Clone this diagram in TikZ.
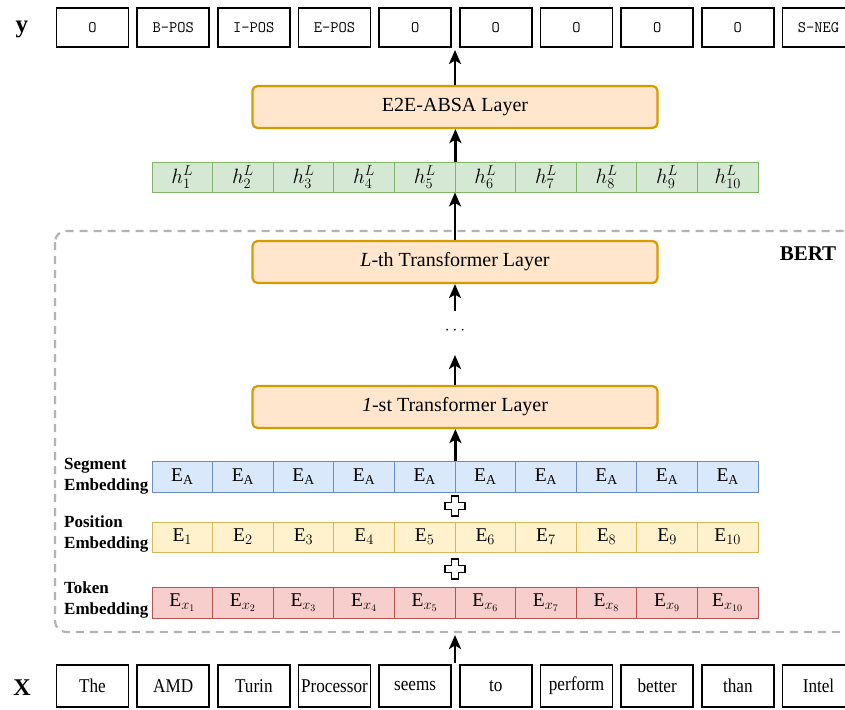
\documentclass[tikz,border=0pt]{standalone}
\usepackage{fontspec}
\setmainfont{Liberation Serif}
\newfontfamily\narrowserif[FakeStretch=0.88]{Liberation Serif}
\usetikzlibrary{arrows.meta}

\definecolor{layerfill}{HTML}{FFE6CC}
\definecolor{layerline}{HTML}{D79B00}
\definecolor{hfill}{HTML}{D5E8D4}
\definecolor{hline}{HTML}{82B366}
\definecolor{segfill}{HTML}{DAE8FC}
\definecolor{segline}{HTML}{6C8EBF}
\definecolor{posfill}{HTML}{FFF2CC}
\definecolor{posline}{HTML}{D6B656}
\definecolor{tokfill}{HTML}{F8CECC}
\definecolor{tokline}{HTML}{B85450}
\definecolor{bertline}{HTML}{B3B3B3}

\tikzset{
  tagbox/.style={draw=black, line width=1.4pt, minimum width=72pt, minimum height=39pt,
    inner sep=0pt, font=\ttfamily\fontsize{16}{18}\selectfont},
  wordbox/.style={draw=black, line width=1.4pt, minimum width=72pt, minimum height=42pt,
    inner sep=0pt, font=\narrowserif\fontsize{19.5}{22}\selectfont},
  cell/.style={draw, line width=0.8pt, minimum width=60.6pt, inner sep=0pt,
    font=\fontsize{19.5}{22}\selectfont},
  hcell/.style={cell, draw=hline, fill=hfill, minimum height=30pt},
  segcell/.style={cell, draw=segline, fill=segfill, minimum height=31pt},
  poscell/.style={cell, draw=posline, fill=posfill, minimum height=30pt},
  tokcell/.style={cell, draw=tokline, fill=tokfill, minimum height=31pt},
  layerbox/.style={draw=layerline, fill=layerfill, line width=2.2pt, rounded corners=5pt,
    minimum width=405pt, minimum height=42pt, inner sep=0pt,
    font=\fontsize{20}{24}\selectfont},
  rowlabel/.style={anchor=west, align=left, inner sep=0pt,
    font=\bfseries\fontsize{17}{20.5}\selectfont},
  arr/.style={line width=2.4pt, -{Stealth[length=14pt,width=12pt,inset=3.5pt]}},
  plussign/.style={draw=black, fill=white, line width=1.9pt, line join=miter},
}

\begin{document}
\begin{tikzpicture}[x=1pt, y=-1pt]
\useasboundingbox (0,0) rectangle (845,709);

% BERT frame
\draw[bertline, line width=2.2pt, dash pattern=on 8pt off 6pt, rounded corners=11pt]
  (55,231) rectangle (880,632);
\node[font=\bfseries\fontsize{21}{24}\selectfont] (bert) at (808,254) {BERT};

% output tags and input words
\node[font=\fontsize{25}{28}\selectfont] (ylab) at (22,29) {$\mathbf{y}$};
\node[font=\bfseries\fontsize{24}{28}\selectfont] (xlab) at (22,688) {X};
\foreach \t [count=\i] in {O,B-POS,I-POS,E-POS,O,O,O,O,O,S-NEG}
  \node[tagbox] (y\i) at ({455.5+(\i-5.5)*80.67},27.5) {\t};
\foreach \w [count=\i] in {The,AMD,Turin,Processor,seems,to,perform,better,than,Intel}
  \node[wordbox] (x\i) at ({455.5+(\i-5.5)*80.67},686) {\w};

% layers
\node[layerbox] (absa) at (455,107) {E2E-ABSA Layer};
\node[layerbox] (lL) at (455,262) {\textit{L}-th Transformer Layer};
\node[layerbox] (l1) at (455,407) {\textit{1}-st Transformer Layer};
\node[font=\fontsize{19}{20}\selectfont] (dots) at (455,331) {$\cdots$};

% hidden states and embeddings
\foreach \i in {1,...,10} {
  \node[hcell]   (h\i) at ({152+(\i-0.5)*60.6},177)   {$h^{L}_{\i}$};
  \node[segcell] (s\i) at ({152+(\i-0.5)*60.6},476.5) {$\mathrm{E}_{\mathrm{A}}$};
  \node[poscell] (p\i) at ({152+(\i-0.5)*60.6},537)   {$\mathrm{E}_{\i}$};
  \node[tokcell] (t\i) at ({152+(\i-0.5)*60.6},602.5) {$\mathrm{E}_{x_{\i}}$};
}

\node[rowlabel] (seglab) at (64,476) {Segment\\Embedding};
\node[rowlabel] (poslab) at (64,534) {Position\\Embedding};
\node[rowlabel] (toklab) at (64,600) {Token\\Embedding};

% plus signs between embedding rows
\foreach \cy in {506,569}
  \draw[plussign, shift={(455,\cy)}]
    (-3.5,-10) -- (3.5,-10) -- (3.5,-3.5) -- (10,-3.5) -- (10,3.5) -- (3.5,3.5)
    -- (3.5,10) -- (-3.5,10) -- (-3.5,3.5) -- (-10,3.5) -- (-10,-3.5) -- (-3.5,-3.5) -- cycle;

% data flow
\coordinate (inTop) at (455,663);
\coordinate (inTip) at (455,635);
\coordinate (dotsTop) at (455,355);
\coordinate (dotsBot) at (455,311);
\coordinate (outTip) at (455,50);
\draw[arr] (inTop) -- (inTip);
\draw[arr] (s5.north east) -- (s5.north east |- l1.south);
\draw[arr] (l1.north) -- (dotsTop);
\draw[arr] (dotsBot) -- (lL.south);
\draw[arr] (lL.north) -- (lL.north |- h5.south);
\draw[arr] (h5.north east) -- (h5.north east |- absa.south);
\draw[arr] (absa.north) -- (outTip);
\end{tikzpicture}
\end{document}
